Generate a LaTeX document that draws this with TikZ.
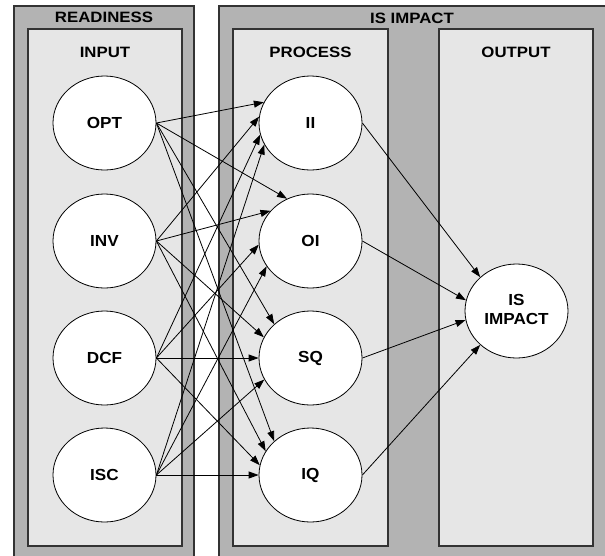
\documentclass[tikz,border=0pt]{standalone}
\usepackage{fontspec}
\usepackage{graphicx}
\setmainfont{Liberation Sans}
\usetikzlibrary{arrows.meta,shapes.geometric}
\definecolor{outergray}{HTML}{B3B3B3}
\definecolor{innergray}{HTML}{E6E6E6}
\definecolor{boxline}{HTML}{333333}
\newcommand{\boxlbl}[1]{\scalebox{1.12}[1]{#1}}
\newcommand{\nodelbl}[1]{\scalebox{1.07}[1]{#1}}
\begin{document}
\begin{tikzpicture}[x=1pt,y=-1pt,
  outerbox/.style={fill=outergray,draw=boxline,line width=1.2pt},
  innerbox/.style={fill=innergray,draw=boxline,line width=1.2pt},
  boxlabel/.style={font=\fontsize{15}{18}\selectfont\bfseries,inner sep=0pt},
  var/.style={ellipse,draw=black,fill=white,line width=0.8pt,minimum width=103pt,minimum height=94pt,inner sep=0pt,font=\fontsize{16}{19}\selectfont\bfseries},
  link/.style={draw=black,line width=0.8pt,-{Triangle[length=10pt,width=7pt]}}]
\useasboundingbox (0,0) rectangle (605,555);
\clip (0,0) rectangle (605,555);
% group boxes
\draw[outerbox] (14,6) rectangle (194,562);
\draw[outerbox] (219,6) rectangle (610,562);
\draw[innerbox] (28,29) rectangle (182,546);
\draw[innerbox] (233,29) rectangle (388,546);
\draw[innerbox] (439,29) rectangle (593,546);
% labels
\node[boxlabel] (lready) at (104,17.7) {\boxlbl{READINESS}};
\node[boxlabel] (limpact) at (412,18.7) {\boxlbl{IS IMPACT}};
\node[boxlabel] (linput) at (105,52) {\boxlbl{INPUT}};
\node[boxlabel] (lprocess) at (310.5,52) {\boxlbl{PROCESS}};
\node[boxlabel] (loutput) at (516,52) {\boxlbl{OUTPUT}};
% variables
\node[var] (OPT) at (104.5,123) {\nodelbl{OPT}};
\node[var] (INV) at (104.5,241) {\nodelbl{INV}};
\node[var] (DCF) at (104.5,358) {\nodelbl{DCF}};
\node[var] (ISC) at (104.5,475) {\nodelbl{ISC}};
\node[var] (II) at (310.5,123) {\nodelbl{II}};
\node[var] (OI) at (310.5,241) {\nodelbl{OI}};
\node[var] (SQ) at (310.5,358) {\nodelbl{SQ}};
\node[var] (IQ) at (310.5,475) {\nodelbl{IQ}};
\node[var] (ISI) at (516.5,311) {\nodelbl{\begin{tabular}{@{}c@{}}IS\\IMPACT\end{tabular}}};
% input -> process
\draw[link] (OPT.east) -- (II.156);
\draw[link] (OPT.east) -- (OI.119);
\draw[link] (OPT.east) -- (SQ.137);
\draw[link] (OPT.east) -- (IQ.137);
\draw[link] (INV.east) -- (II.173);
\draw[link] (INV.east) -- (OI.143);
\draw[link] (INV.east) -- (SQ.156);
\draw[link] (INV.east) -- (IQ.152);
\draw[link] (DCF.east) -- (II.193);
\draw[link] (DCF.east) -- (OI.184);
\draw[link] (DCF.east) -- (SQ.180);
\draw[link] (DCF.east) -- (IQ.169);
\draw[link] (ISC.east) -- (II.205);
\draw[link] (ISC.east) -- (OI.210);
\draw[link] (ISC.east) -- (SQ.205);
\draw[link] (ISC.east) -- (IQ.180);
% process -> output
\draw[link] (II.east) -- (ISI.137);
\draw[link] (OI.east) -- (ISI.168);
\draw[link] (SQ.east) -- (ISI.190);
\draw[link] (IQ.east) -- (ISI.223);
\end{tikzpicture}
\end{document}
